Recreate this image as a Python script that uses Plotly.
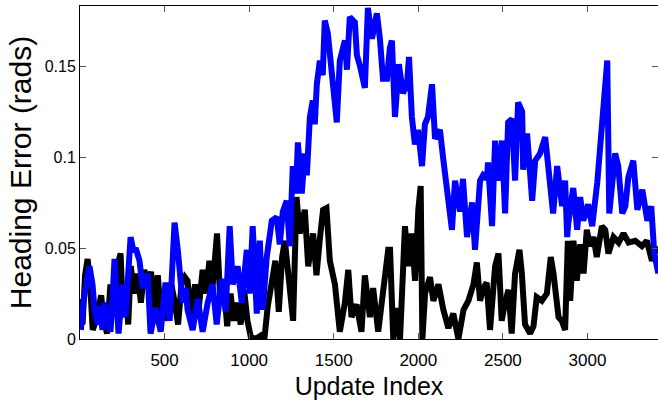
import plotly.graph_objects as go

# Blue series (update index, heading error in rads)
blue_x = [5, 21, 56, 74, 86, 104, 115, 133, 145, 163, 180, 192, 204, 216, 228, 252, 269, 299, 317, 329,
          352, 370, 400, 417, 447, 477, 506, 530, 559, 577, 607, 625, 636, 666, 696, 725, 755, 784, 808, 838,
          861, 885, 903, 932, 956, 986, 1003, 1021, 1045, 1063, 1080, 1104, 1134, 1163, 1181, 1199, 1222, 1240,
          1258, 1276, 1288, 1311, 1329, 1341, 1359, 1376, 1388, 1400, 1418, 1435, 1447, 1465, 1489, 1501, 1518,
          1536, 1566, 1578, 1595, 1625, 1637, 1655, 1684, 1702, 1726, 1755, 1773, 1791, 1815, 1832, 1844, 1862,
          1885, 1909, 1933, 1945, 1962, 1980, 1998, 2022, 2039, 2057, 2081, 2099, 2128, 2146, 2176, 2199, 2217,
          2247, 2264, 2288, 2318, 2335, 2365, 2383, 2406, 2412, 2436, 2454, 2472, 2495, 2513, 2531, 2554, 2572,
          2590, 2614, 2620, 2643, 2673, 2691, 2720, 2750, 2768, 2797, 2821, 2850, 2868, 2880, 2886, 2916, 2939,
          2957, 2975, 3004, 3028, 3058, 3075, 3093, 3117, 3129, 3147, 3164, 3182, 3206, 3224, 3242, 3271, 3295,
          3324, 3354, 3377, 3395, 3419]
blue_y = [0.005, 0.021, 0.040, 0.030, 0.016, 0.008, 0.018, 0.005, 0.020, 0.010, 0.004, 0.022, 0.044, 0.020,
          0.003, 0.030, 0.012, 0.056, 0.048, 0.050, 0.043, 0.028, 0.036, 0.003, 0.017, 0.004, 0.031, 0.010,
          0.064, 0.050, 0.020, 0.028, 0.016, 0.005, 0.022, 0.004, 0.020, 0.030, 0.008, 0.033, 0.015, 0.062,
          0.030, 0.040, 0.020, 0.049, 0.025, 0.062, 0.014, 0.054, 0.016, 0.045, 0.065, 0.067, 0.052, 0.070,
          0.076, 0.051, 0.095, 0.080, 0.108, 0.080, 0.102, 0.090, 0.122, 0.131, 0.118, 0.140, 0.153, 0.145,
          0.175, 0.168, 0.146, 0.135, 0.119, 0.153, 0.164, 0.148, 0.177, 0.174, 0.156, 0.150, 0.138, 0.182,
          0.165, 0.179, 0.165, 0.143, 0.143, 0.160, 0.164, 0.122, 0.151, 0.135, 0.140, 0.155, 0.122, 0.107,
          0.115, 0.095, 0.118, 0.122, 0.140, 0.110, 0.115, 0.100, 0.076, 0.060, 0.087, 0.070, 0.088, 0.056,
          0.075, 0.049, 0.087, 0.090, 0.088, 0.097, 0.062, 0.109, 0.087, 0.109, 0.069, 0.119, 0.121, 0.087,
          0.130, 0.125, 0.093, 0.113, 0.076, 0.098, 0.102, 0.111, 0.095, 0.069, 0.095, 0.073, 0.087, 0.056,
          0.063, 0.083, 0.060, 0.078, 0.065, 0.074, 0.062, 0.086, 0.104, 0.119, 0.153, 0.069, 0.087, 0.102,
          0.095, 0.069, 0.073, 0.089, 0.098, 0.071, 0.082, 0.065, 0.073, 0.047, 0.036]

# Black series
black_x = [0, 15, 30, 45, 60, 75, 95, 110, 125, 140, 160, 180, 200, 220, 240, 255, 270, 285, 300, 320,
           340, 360, 380, 400, 420, 440, 460, 480, 500, 520, 540, 560, 580, 600, 620, 636, 655, 680, 700,
           725, 745, 765, 785, 810, 830, 850, 870, 890, 910, 930, 950, 970, 990, 1010, 1040, 1070, 1090,
           1110, 1135, 1155, 1175, 1195, 1211, 1230, 1260, 1280, 1299, 1329, 1349, 1378, 1398, 1418, 1437,
           1457, 1477, 1507, 1536, 1566, 1586, 1605, 1635, 1664, 1684, 1714, 1733, 1763, 1793, 1822, 1833,
           1852, 1872, 1892, 1921, 1941, 1961, 1981, 2000, 2014, 2024, 2040, 2069, 2089, 2119, 2148, 2178,
           2207, 2237, 2267, 2296, 2326, 2346, 2365, 2385, 2404, 2424, 2454, 2474, 2493, 2513, 2533, 2552,
           2572, 2598, 2612, 2631, 2661, 2681, 2700, 2730, 2760, 2783, 2799, 2829, 2848, 2868, 2884, 2898,
           2917, 2937, 2957, 2977, 2996, 3016, 3036, 3055, 3085, 3105, 3124, 3154, 3184, 3213, 3243, 3282,
           3322, 3351, 3381, 3411]
black_y = [0.022, 0.008, 0.035, 0.044, 0.030, 0.005, 0.010, 0.018, 0.024, 0.010, 0.003, 0.030, 0.015,
           0.040, 0.047, 0.012, 0.030, 0.008, 0.040, 0.025, 0.036, 0.020, 0.038, 0.030, 0.037, 0.015, 0.035,
           0.010, 0.025, 0.010, 0.030, 0.020, 0.008, 0.030, 0.034, 0.032, 0.012, 0.030, 0.015, 0.038, 0.025,
           0.043, 0.030, 0.058, 0.020, 0.030, 0.007, 0.025, 0.010, 0.020, 0.008, 0.027, 0.010, 0.001, 0.000,
           0.002, 0.000, 0.018, 0.031, 0.043, 0.015, 0.045, 0.054, 0.035, 0.010, 0.078, 0.058, 0.071, 0.040,
           0.058, 0.035, 0.055, 0.071, 0.072, 0.043, 0.030, 0.004, 0.020, 0.038, 0.012, 0.019, 0.004, 0.035,
           0.012, 0.028, 0.004, 0.026, 0.049, 0.049, 0.000, 0.017, 0.000, 0.062, 0.040, 0.058, 0.032, 0.071,
           0.084, 0.000, 0.025, 0.034, 0.021, 0.030, 0.016, 0.006, 0.014, 0.000, 0.016, 0.021, 0.030, 0.042,
           0.021, 0.028, 0.031, 0.005, 0.040, 0.047, 0.010, 0.020, 0.027, 0.003, 0.036, 0.049, 0.036, 0.008,
           0.003, 0.007, 0.023, 0.021, 0.025, 0.045, 0.036, 0.012, 0.010, 0.005, 0.054, 0.021, 0.054, 0.032,
           0.052, 0.036, 0.060, 0.051, 0.056, 0.045, 0.062, 0.060, 0.047, 0.056, 0.053, 0.058, 0.053, 0.054,
           0.051, 0.054, 0.043, 0.051]

x_ticks = [500, 1000, 1500, 2000, 2500, 3000]
y_ticks = [0, 0.05, 0.1, 0.15]
y_tick_labels = ["0", "0.05", "0.1", "0.15"]

fig = go.Figure()
fig.add_trace(go.Scatter(x=black_x, y=black_y, mode="lines",
                         line=dict(color="black", width=6), showlegend=False))
fig.add_trace(go.Scatter(x=blue_x, y=blue_y, mode="lines",
                         line=dict(color="#0000ff", width=6), showlegend=False))

font_family = "Liberation Sans, Arial, sans-serif"
fig.update_layout(
    width=658, height=405,
    margin=dict(l=80, r=0, t=6, b=66),
    paper_bgcolor="white", plot_bgcolor="white",
    font=dict(family=font_family, color="black"),
    xaxis=dict(range=[0, 3417], tickvals=x_ticks, ticks="inside", ticklen=6,
               tickcolor="#555555", showline=True, linecolor="black", linewidth=1,
               mirror="ticks", showgrid=False, zeroline=False,
               tickfont=dict(size=17), ticklabelstandoff=6,
               title=dict(text="Update Index", font=dict(size=25), standoff=8)),
    yaxis=dict(range=[0, 0.183], tickvals=y_ticks, ticktext=y_tick_labels,
               ticks="inside", ticklen=6, tickcolor="#555555",
               showline=True, linecolor="black", linewidth=1, mirror="ticks",
               showgrid=False, zeroline=False, tickfont=dict(size=16),
               title=dict(text="Heading Error (rads)", font=dict(size=30), standoff=4)),
)

fig.write_html("out.html")
